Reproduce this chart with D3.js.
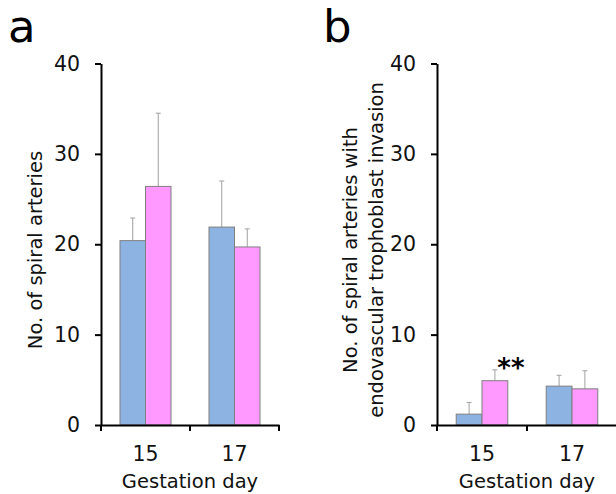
<!DOCTYPE html>
<html>
<head>
<meta charset="utf-8">
<script src="https://d3js.org/d3.v7.min.js"></script>
<style>
  body { margin: 0; background: #fff; }
  svg { font-family: "DejaVu Sans", sans-serif; }
</style>
</head>
<body>
<div id="chart"></div>
<script>
// gestation day groups and the two series (blue / pink)
var days = ["15", "17"];
var series = ["blue", "pink"];
var colors = ["#8db3e2", "#ff99ff"];
var yTicks = [0, 10, 20, 30, 40];

// panel a: no. of spiral arteries (mean, upper error)
var aMean = [[20.4, 26.4], [21.9, 19.7]];
var aErr = [[2.5, 8.1], [5.1, 2.0]];

// panel b: spiral arteries with endovascular trophoblast invasion
var bMean = [[1.2, 4.9], [4.3, 4.0]];
var bErr = [[1.3, 1.2], [1.2, 2.0]];

var svg = d3.select("#chart").append("svg")
    .attr("width", 616)
    .attr("height", 494);

var y = d3.scaleLinear().domain([0, 40]).range([425, 63.5]);

function panel(opts) {
  var g = svg.append("g");
  var x0 = d3.scaleBand().domain(days).range([opts.left, opts.right]);
  var x1 = d3.scaleBand().domain(series).range([0, x0.bandwidth()])
      .paddingInner(0).paddingOuter(0.745);

  // bars
  days.forEach(function(d, i) {
    series.forEach(function(s, j) {
      var v = opts.mean[i][j], e = opts.err[i][j];
      var bx = x0(d) + x1(s);
      var cx = bx + x1.bandwidth() / 2;
      g.append("line")
          .attr("x1", cx).attr("x2", cx)
          .attr("y1", y(v)).attr("y2", y(v + e))
          .attr("stroke", "#a0a0a0").attr("stroke-width", 1);
      g.append("line")
          .attr("x1", cx - 2.5).attr("x2", cx + 2.5)
          .attr("y1", y(v + e)).attr("y2", y(v + e))
          .attr("stroke", "#a0a0a0").attr("stroke-width", 1);
      g.append("rect")
          .attr("x", bx).attr("y", y(v))
          .attr("width", x1.bandwidth()).attr("height", y(0) - y(v))
          .attr("fill", colors[j])
          .attr("stroke", "#7f7f7f").attr("stroke-width", 1);
    });
  });

  // y axis
  var ya = g.append("g")
      .attr("transform", "translate(" + opts.left + ",0)")
      .call(d3.axisLeft(y).tickValues(yTicks).tickSize(6).tickPadding(15).tickSizeOuter(0))
      .attr("font-family", null).attr("font-size", null);
  ya.select(".domain").attr("stroke", "#000").attr("stroke-width", 2);
  ya.selectAll(".tick line").attr("stroke", "#000").attr("stroke-width", 2);
  ya.selectAll(".tick text").style("font-size", "20.5px").attr("fill", "#111");

  // x axis: labels centred, ticks on the band edges
  var xa = g.append("g")
      .attr("transform", "translate(0," + y(0) + ")")
      .call(d3.axisBottom(x0).tickSize(0).tickPadding(21).tickSizeOuter(0))
      .attr("font-family", null).attr("font-size", null);
  xa.select(".domain").attr("stroke", "#000").attr("stroke-width", 2);
  xa.selectAll(".tick text").style("font-size", "20.5px").attr("fill", "#111");
  var edges = days.map(function(d) { return x0(d); }).concat([x0.range()[1]]);
  g.selectAll(".edge").data(edges).enter().append("line")
      .attr("x1", function(d) { return d; }).attr("x2", function(d) { return d; })
      .attr("y1", y(0)).attr("y2", y(0) + 6)
      .attr("stroke", "#000").attr("stroke-width", 2);

  g.append("text")
      .attr("x", (opts.left + opts.right) / 2)
      .attr("y", 488)
      .attr("text-anchor", "middle")
      .style("font-size", "19.5px")
      .attr("fill", "#111")
      .text("Gestation day");

  opts.title.forEach(function(t, k) {
    g.append("text")
        .attr("transform", "translate(" + opts.titleX[k] + ",250) rotate(-90)")
        .attr("text-anchor", "middle")
        .style("font-size", "19.5px")
        .attr("fill", "#111")
        .text(t);
  });

  g.append("text")
      .attr("x", opts.letterX).attr("y", 42)
      .style("font-size", "45px")
      .attr("fill", "#000")
      .text(opts.letter);

  return { x0: x0, x1: x1, g: g };
}

panel({
  left: 101, right: 279, mean: aMean, err: aErr,
  title: ["No. of spiral arteries"], titleX: [41.5],
  letter: "a", letterX: 8
});

var pb = panel({
  left: 437, right: 617, mean: bMean, err: bErr,
  title: ["No. of spiral arteries with", "endovascular trophoblast invasion"],
  titleX: [357, 383],
  letter: "b", letterX: 323
});

// significance mark above day 15, pink bar
pb.g.append("text")
    .attr("x", pb.x0("15") + pb.x1("pink") + pb.x1.bandwidth() / 2 + 16)
    .attr("y", y(bMean[0][1] + bErr[0][1]) + 7)
    .attr("text-anchor", "middle")
    .style("font-size", "26px")
    .style("font-weight", "bold")
    .attr("fill", "#000")
    .text("**");
</script>
</body>
</html>
